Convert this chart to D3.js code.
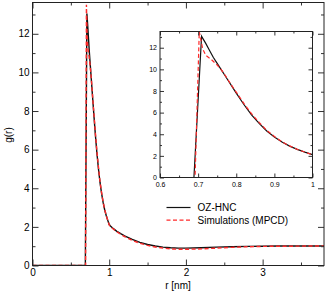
<!DOCTYPE html>
<html>
<head>
<meta charset="utf-8">
<script src="https://cdn.jsdelivr.net/npm/d3@7"></script>
<style>
  body { margin: 0; background: #fff; }
  text { font-family: "Liberation Sans", Arial, sans-serif; }
</style>
</head>
<body>
<script>
// OZ-HNC curve
var rHNC = [0, 0.689, 0.709, 0.72, 0.73, 0.74, 0.75, 0.76, 0.77, 0.78, 0.79, 0.80, 0.82, 0.84, 0.86, 0.88, 0.90, 0.92, 0.94, 0.96, 0.98, 1.00, 1.02, 1.05, 1.1, 1.15, 1.2, 1.3, 1.4, 1.5, 1.6, 1.7, 1.8, 1.9, 2.0, 2.2, 2.4, 2.6, 2.8, 3.0, 3.2, 3.4, 3.6, 3.8];
var gHNC = [0, 0, 13.05, 12.4, 11.75, 11.1, 10.55, 10.0, 9.45, 8.9, 8.35, 7.8, 6.75, 5.8, 5.0, 4.3, 3.75, 3.28, 2.9, 2.6, 2.35, 2.12, 2.03, 1.92, 1.77, 1.65, 1.54, 1.35, 1.2, 1.09, 1.01, 0.95, 0.92, 0.9, 0.9, 0.92, 0.95, 0.97, 0.99, 1.0, 1.01, 1.01, 1.01, 1.01];
// simulations (MPCD)
var rMPCD = [0, 0.692, 0.703, 0.712, 0.72, 0.735, 0.75, 0.76, 0.77, 0.78, 0.79, 0.80, 0.82, 0.84, 0.86, 0.88, 0.90, 0.92, 0.94, 0.96, 0.98, 1.00, 1.02, 1.05, 1.1, 1.15, 1.2, 1.3, 1.4, 1.5, 1.6, 1.7, 1.8, 1.9, 2.0, 2.2, 2.4, 2.6, 2.8, 3.0, 3.2, 3.4, 3.6, 3.8];
var gMPCD = [0, 0, 13.5, 11.9, 11.3, 10.9, 10.4, 10.0, 9.5, 8.95, 8.4, 7.9, 6.85, 5.9, 5.1, 4.35, 3.8, 3.3, 2.92, 2.6, 2.35, 2.1, 2.0, 1.9, 1.74, 1.62, 1.5, 1.3, 1.15, 1.04, 0.96, 0.9, 0.86, 0.84, 0.84, 0.86, 0.9, 0.94, 0.97, 0.99, 1.0, 1.0, 1.01, 1.01];

var mainXTicks = [0, 1, 2, 3];
var mainYTicks = [0, 2, 4, 6, 8, 10, 12];
var insetXTicks = [0.6, 0.7, 0.8, 0.9, 1];
var insetYTicks = [0, 2, 4, 6, 8, 10, 12];
var legendLabels = ["OZ-HNC", "Simulations (MPCD)"];

var width = 327, height = 293;
var red = "#ff2a2a";

var svg = d3.select("body").append("svg").attr("width", width).attr("height", height);

var hnc = rHNC.map((r, i) => [r, gHNC[i]]);
var mpcd = rMPCD.map((r, i) => [r, gMPCD[i]]);

function panel(x, y, opt) {
  var g = svg.append("g");
  var clipId = "clip" + opt.id;
  var x0 = x.range()[0], x1 = x.range()[1], y0 = y.range()[0], y1 = y.range()[1];
  svg.append("clipPath").attr("id", clipId).append("rect")
    .attr("x", x0).attr("y", y1).attr("width", x1 - x0).attr("height", y0 - y1);

  g.append("rect")
    .attr("x", x0).attr("y", y1).attr("width", x1 - x0).attr("height", y0 - y1)
    .attr("fill", "white");

  var line = d3.line().x((d) => x(d[0])).y((d) => y(d[1]));
  var lines = g.append("g").attr("clip-path", "url(#" + clipId + ")");
  lines.append("path").attr("d", line(hnc)).attr("fill", "none")
    .attr("stroke", "#111").attr("stroke-width", opt.lw);
  lines.append("path").attr("d", line(mpcd)).attr("fill", "none")
    .attr("stroke", red).attr("stroke-width", opt.lw).attr("stroke-dasharray", "4,2.5");

  // inward ticks on all four sides
  var bottom = d3.axisBottom(x).tickValues(opt.xTicks).tickSizeInner(-opt.major).tickSizeOuter(0)
    .tickPadding(opt.xpad).tickFormat(opt.xFmt);
  var top = d3.axisTop(x).tickValues(opt.xTicks).tickSizeInner(-opt.major).tickSizeOuter(0).tickFormat("");
  var left = d3.axisLeft(y).tickValues(opt.yTicks).tickSizeInner(-opt.major).tickSizeOuter(0)
    .tickPadding(opt.ypad).tickFormat(d3.format("d"));
  var right = d3.axisRight(y).tickValues(opt.yTicks).tickSizeInner(-opt.major).tickSizeOuter(0).tickFormat("");
  var bottomMin = d3.axisBottom(x).tickValues(opt.xMinor).tickSize(-opt.minor).tickFormat("");
  var topMin = d3.axisTop(x).tickValues(opt.xMinor).tickSize(-opt.minor).tickFormat("");
  var leftMin = d3.axisLeft(y).tickValues(opt.yMinor).tickSize(-opt.minor).tickFormat("");
  var rightMin = d3.axisRight(y).tickValues(opt.yMinor).tickSize(-opt.minor).tickFormat("");

  [[bottom, "translate(0," + y0 + ")"], [bottomMin, "translate(0," + y0 + ")"],
   [top, "translate(0," + y1 + ")"], [topMin, "translate(0," + y1 + ")"],
   [left, "translate(" + x0 + ",0)"], [leftMin, "translate(" + x0 + ",0)"],
   [right, "translate(" + x1 + ",0)"], [rightMin, "translate(" + x1 + ",0)"]].forEach(function (a) {
    var ax = g.append("g").attr("transform", a[1]).call(a[0]);
    ax.select(".domain").remove();
    ax.selectAll("line").attr("stroke", "#333");
    ax.selectAll("text").attr("font-size", opt.font).attr("fill", "#000")
      .style("font-family", "'Liberation Sans', Arial, sans-serif");
  });

  g.append("rect")
    .attr("x", x0).attr("y", y1).attr("width", x1 - x0).attr("height", y0 - y1)
    .attr("fill", "none").attr("stroke", "#222").attr("stroke-width", 1);
  return g;
}

// main plot
var x = d3.scaleLinear().domain([0, 3.8]).range([32.5, 324]);
var y = d3.scaleLinear().domain([0, 13.62]).range([265.5, 2.5]);
panel(x, y, {
  id: "main", xTicks: mainXTicks, yTicks: mainYTicks,
  xMinor: [0.5, 1.5, 2.5, 3.5], yMinor: [1, 3, 5, 7, 9, 11, 13],
  major: 6, minor: 3, xpad: 3, ypad: 3, font: 10, lw: 1.4, xFmt: d3.format("d")
});

// inset
var xi = d3.scaleLinear().domain([0.6, 1]).range([160, 312.5]);
var yi = d3.scaleLinear().domain([0, 13.5]).range([177.5, 31.5]);
panel(xi, yi, {
  id: "inset", xTicks: insetXTicks, yTicks: insetYTicks,
  xMinor: [0.65, 0.75, 0.85, 0.95], yMinor: [1, 3, 5, 7, 9, 11, 13],
  major: 4, minor: 2, xpad: 5, ypad: 3, font: 7, lw: 1.2,
  xFmt: (d) => (d === 1 ? "1" : d3.format(".1f")(d))
});

svg.append("text").attr("x", 178).attr("y", 289).attr("text-anchor", "middle")
  .attr("font-size", 10).text("r [nm]");
svg.append("text").attr("transform", "translate(12,135) rotate(-90)").attr("text-anchor", "middle")
  .attr("font-size", 10).text("g(r)");

// legend
var leg = svg.append("g");
leg.selectAll("line").data(legendLabels).enter().append("line")
  .attr("x1", 166.5).attr("x2", 190.5)
  .attr("y1", (d, i) => 207.5 + i * 12.7).attr("y2", (d, i) => 207.5 + i * 12.7)
  .attr("stroke", (d, i) => (i === 0 ? "#111" : red)).attr("stroke-width", 1.2)
  .attr("stroke-dasharray", (d, i) => (i === 0 ? null : "4,2.5"));
leg.selectAll("text").data(legendLabels).enter().append("text")
  .attr("x", 197.5).attr("y", (d, i) => 211 + i * 12.7)
  .attr("font-size", 10).text((d) => d);
</script>
</body>
</html>
